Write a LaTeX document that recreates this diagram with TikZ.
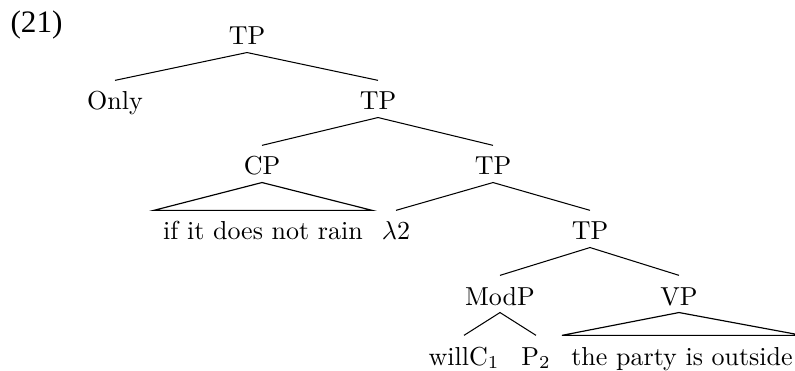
\documentclass[tikz,border=0pt]{standalone}
\usepackage{fontspec}
\newfontfamily\exfont{Liberation Serif}
\begin{document}
\begin{tikzpicture}[x=0.3846pt,y=-0.3846pt,
  lbl/.style={anchor=base,font=\fontsize{10}{12}\selectfont,text height=8.5pt,text depth=0pt,inner ysep=2.7pt,inner xsep=3.4pt},
  edge/.style={line width=0.4pt},
  roof/.style={line width=0.45pt,line join=miter}]
\useasboundingbox (0,0) rectangle (795,371);
\node[anchor=base west,inner sep=0pt,font=\exfont\fontsize{12}{14}\selectfont] (ex) at (10,33) {(21)};
\node[lbl] (tp1) at (247,45) {TP};
\node[lbl] (only) at (115,110) {Only};
\node[lbl] (tp2) at (378,110) {TP};
\node[lbl] (cp) at (262,175) {CP};
\node[lbl] (tp3) at (493,175) {TP};
\node[lbl] (rain) at (263,240) {if it does not rain};
\node[lbl] (lam) at (396,240) {$\lambda 2$};
\node[lbl] (tp4) at (590,240) {TP};
\node[lbl] (modp) at (500,305) {ModP};
\node[lbl] (vp) at (679,305) {VP};
\node[lbl] (will) at (464,365) {will$\mathrm{C}_1$};
\node[lbl] (p2) at (536,365) {$\mathrm{P}_2$};
\node[lbl] (party) at (682,365) {the party is outside};
\draw[edge] (only.north) -- (tp1.south) -- (tp2.north);
\draw[edge] (cp.north) -- (tp2.south) -- (tp3.north);
\draw[roof] (cp.south) -- (rain.north west) -- (rain.north east) -- cycle;
\draw[edge] (lam.north) -- (tp3.south) -- (tp4.north);
\draw[edge] (modp.north) -- (tp4.south) -- (vp.north);
\draw[edge] (will.north) -- (modp.south) -- (p2.north);
\draw[roof] (vp.south) -- (party.north west) -- (party.north east) -- cycle;
\end{tikzpicture}
\end{document}
